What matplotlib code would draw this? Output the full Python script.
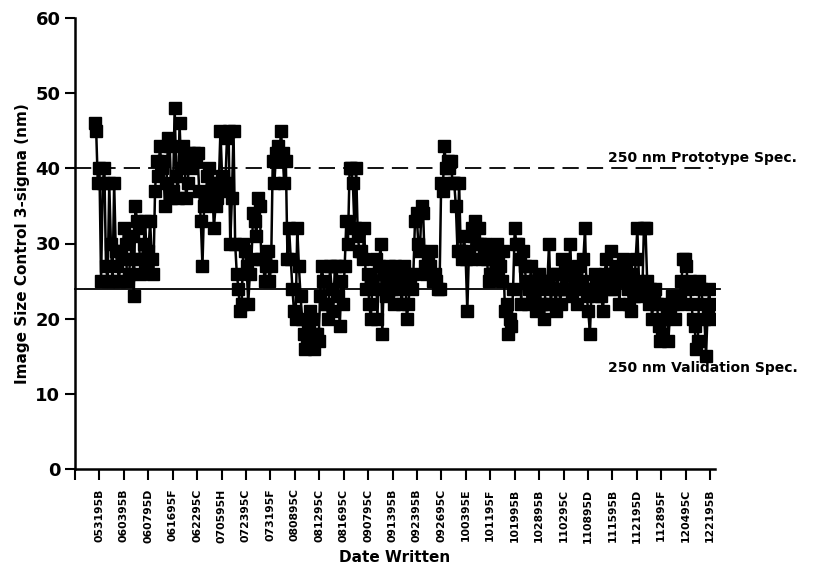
import numpy as np
import matplotlib
matplotlib.use("Agg")
import matplotlib.pyplot as plt

# x tick labels (date written)
date_labels = ["053195B", "060395B", "060795D", "061695F", "062295C", "070595H",
               "072395C", "073195F", "080895C", "081295C", "081695C", "090795C",
               "091395B", "092395B", "092695C", "100395E", "101195F", "101995B",
               "102895B", "110295C", "110895D", "111595B", "112195D", "112895F",
               "120495C", "122195B"]

# Image size control 3-sigma (nm), in write order
sigma_values = [
    46, 45, 38, 40, 25, 38, 40, 27, 25, 38, 30, 25, 38, 29, 27, 25, 29, 28,
    32, 30, 25, 26, 28, 31, 23, 35, 33, 32, 26, 28, 30, 33, 27, 29, 33, 28, 26,
    37, 41, 39, 43, 40, 41, 35, 38, 44, 43, 36, 37, 48, 39, 36, 46, 40, 43,
    41, 36, 38, 42, 40, 41, 42, 41, 42, 37, 33, 27, 35, 36, 39, 40, 37, 38,
    32, 35, 36, 38, 45, 39, 37, 38, 44, 45, 30, 36, 45, 30, 26, 24, 21, 22,
    30, 29, 27, 22, 26, 28, 34, 33, 31, 36, 35, 28, 28, 25, 27, 29, 25, 27,
    41, 38, 42, 43, 41, 45, 42, 38, 41, 28, 32, 28, 24, 21, 20, 32, 27, 23,
    20, 18, 16, 17, 19, 21, 20, 16, 18, 18, 17, 23, 27, 25, 22, 22, 20, 27,
    24, 21, 27, 27, 23, 19, 25, 22, 27, 33, 30, 40, 40, 38, 32, 40, 31, 29,
    29, 28, 32, 24, 26, 22, 20, 25, 24, 28, 20, 27, 30, 18, 26, 23, 26, 27,
    25, 24, 22, 27, 26, 25, 24, 22, 27, 26, 20, 22, 25, 24, 26, 33, 34, 30,
    29, 35, 34, 27, 26, 28, 27, 29, 25, 26, 25, 24, 24, 38, 37, 43, 40, 41,
    40, 41, 38, 38, 35, 29, 38, 29, 28, 31, 28, 21, 29, 28, 32, 31, 33, 30,
    32, 30, 28, 29, 30, 28, 25, 26, 29, 26, 28, 30, 28, 27, 25, 29, 21, 22,
    18, 20, 19, 24, 32, 30, 30, 28, 22, 29, 27, 25, 22, 24, 27, 23, 25, 21,
    24, 26, 22, 22, 20, 25, 25, 30, 22, 24, 26, 21, 26, 24, 22, 28, 24, 27,
    24, 26, 30, 23, 26, 25, 22, 27, 24, 25, 28, 32, 23, 21, 18, 24, 24, 26,
    25, 23, 24, 23, 21, 26, 28, 25, 24, 29, 26, 24, 25, 27, 22, 26, 28, 25,
    27, 24, 22, 21, 26, 23, 28, 32, 25, 24, 23, 32, 32, 25, 22, 24, 20, 23,
    24, 22, 19, 17, 18, 20, 22, 21, 17, 21, 23, 22, 20, 23, 22, 23, 25, 28,
    28, 27, 24, 25, 22, 20, 19, 16, 17, 25, 24, 22, 20, 15, 21, 24, 20, 22,
]

prototype_spec = 40
validation_spec = 24

fig = plt.figure(figsize=(8.21, 5.73), dpi=100)
ax = fig.add_axes([75 / 821, 1 - 469 / 573, 640 / 821, 451 / 573])

n = len(sigma_values)
x = np.linspace(0.8, 26.1, n)
ax.plot(x, sigma_values, color="black", lw=1.8, marker="s", ms=8,
        mfc="black", mec="black", zorder=3)

ax.plot([0, 26.1], [prototype_spec, prototype_spec], color="black", lw=1.3,
        dashes=(9, 4.5), zorder=2, clip_on=False)
ax.plot([0, 26.4], [validation_spec, validation_spec], color="black", lw=1.3,
        zorder=2, clip_on=False)

ax.text(21.8, prototype_spec + 0.4, "250 nm Prototype Spec.", fontsize=10,
        fontweight="bold", ha="left", va="bottom", clip_on=False)
ax.text(21.8, validation_spec - 10.6, "250 nm Validation Spec.", fontsize=10,
        fontweight="bold", ha="left", va="center", clip_on=False)

ax.set_xlim(0, 26.2)
ax.set_ylim(0, 60)
ax.set_yticks(range(0, 61, 10))
ax.set_xticks(range(0, 27))
ax.set_xticklabels([""] + date_labels, rotation=90, fontsize=7.8,
                   fontweight="bold")
for lab in ax.get_yticklabels():
    lab.set_fontweight("bold")
ax.tick_params(axis="y", labelsize=13, length=7, width=1.5, direction="out")
ax.tick_params(axis="x", length=8, width=1.5, direction="out", pad=6)

ax.spines["top"].set_visible(False)
ax.spines["right"].set_visible(False)
ax.spines["left"].set_linewidth(1.8)
ax.spines["bottom"].set_linewidth(1.8)

ax.set_ylabel("Image Size Control 3-sigma (nm)", fontsize=11,
              fontweight="bold", labelpad=4)
ax.set_xlabel("Date Written", fontsize=11, fontweight="bold", labelpad=5)

fig.savefig("out.png", dpi=100)
